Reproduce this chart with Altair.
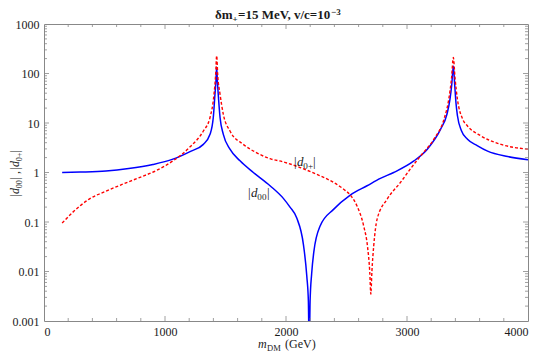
import altair as alt
import pandas as pd

# ---- data ----
blue_x = [150, 300, 512, 700, 900, 1065, 1207, 1317, 1372, 1399, 1413, 1421, 1427,
          1433, 1440, 1455, 1482, 1537, 1620, 1730, 1868, 1978, 2033, 2089, 2144,
          2172, 2185, 2192, 2199, 2212, 2230, 2282, 2393, 2531, 2670, 2780, 2890,
          3057, 3168, 3278, 3330, 3355, 3370, 3383, 3394, 3405, 3417, 3450, 3500,
          3580, 3666, 3832, 4000]
blue_y = [1.0, 1.02, 1.07, 1.2, 1.45, 1.86, 2.65, 3.7, 5.9, 12.9, 38, 70, 135,
          70, 38, 12.9, 5.9, 2.96, 1.72, 1.0, 0.54, 0.3, 0.2, 0.12, 0.035,
          0.008, 0.0025, 0.0002, 0.0025, 0.009, 0.025, 0.083, 0.18, 0.35, 0.54, 0.76, 1.0,
          1.71, 2.96, 7.5, 15, 30, 60, 142, 60, 25, 14, 7.0, 4.7,
          3.5, 2.7, 2.1, 1.8]

red_x = [150, 235, 373, 512, 650, 788, 930, 1065, 1207, 1317, 1372, 1405, 1418, 1427,
         1436, 1455, 1482, 1537, 1647, 1758, 1868, 1978, 2116, 2254, 2393, 2476, 2540,
         2587, 2642, 2675, 2692, 2701, 2710, 2725, 2753, 2836, 2946, 3030, 3112, 3222,
         3306, 3345, 3368, 3383, 3397, 3417, 3460, 3500, 3610, 3776, 4000]
red_y = [0.095, 0.155, 0.29, 0.42, 0.58, 0.79, 1.1, 1.71, 3.3, 6.9, 12.9, 38, 90, 228,
         90, 38, 15, 6.9, 3.7, 2.5, 1.9, 1.64, 1.26, 0.92, 0.63, 0.46, 0.33,
         0.21, 0.083, 0.03, 0.01, 0.0035, 0.01, 0.033, 0.114, 0.29, 0.63, 1.2, 2.16, 4.7,
         12, 30, 80, 210, 80, 30, 12, 8.7, 5.5, 3.7, 2.96]

x_major = [0, 1000, 2000, 3000, 4000]
x_minor = [200, 400, 600, 800, 1200, 1400, 1600, 1800, 2200, 2400, 2600, 2800,
           3200, 3400, 3600, 3800]
y_major = [0.001, 0.01, 0.1, 1, 10, 100, 1000]
y_minor = [m * d for d in [0.001, 0.01, 0.1, 1, 10, 100] for m in range(2, 10)]

# title "δm₊=15 MeV, v/c=10⁻³" in pieces: main, subscript, main, superscript
title_parts = ["δm", "+", "=15 MeV, v/c=10", "−3"]

W, H = 484, 297
FONT = "Liberation Serif"
FRAME = "#888888"
TXT = "#1a1a1a"

blue = pd.DataFrame({"x": blue_x, "v": blue_y})
red = pd.DataFrame({"x": red_x, "v": red_y})

xs = alt.Scale(domain=[0, 4000], nice=False, zero=False)
ys = alt.Scale(type="log", domain=[0.001, 1000], nice=False)

xax = alt.Axis(values=x_major, format="d", grid=False, ticks=False, domain=False,
               labelFont=FONT, labelFontSize=12, labelColor=TXT, labelPadding=5,
               title=None)
yax = alt.Axis(values=y_major, grid=False, ticks=False, domain=False,
               labelFont=FONT, labelFontSize=12, labelColor=TXT, labelPadding=5,
               labelExpr="datum.value >= 1 ? format(datum.value, 'd') : format(datum.value, '~g')",
               title=None)

line_b = alt.Chart(blue).mark_line(color="#0000ff", strokeWidth=1.5, clip=True,
                                   interpolate="monotone").encode(
    x=alt.X("x:Q", scale=xs, axis=xax),
    y=alt.Y("v:Q", scale=ys, axis=yax),
    order="x:Q",
)
line_r = alt.Chart(red).mark_line(color="#ff0000", strokeWidth=1.4, strokeDash=[3, 2],
                                  clip=True, interpolate="monotone").encode(
    x=alt.X("x:Q", scale=xs),
    y=alt.Y("v:Q", scale=ys),
    order="x:Q",
)

xmaj = pd.DataFrame({"t": x_major[1:-1]})
xmin = pd.DataFrame({"t": x_minor})
ymaj = pd.DataFrame({"t": y_major[1:-1]})
ymin = pd.DataFrame({"t": y_minor})


def xticks(df, L):
    bot = alt.Chart(df).mark_rule(color=FRAME, strokeWidth=0.8).encode(
        x=alt.X("t:Q", scale=xs), y=alt.value(H), y2=alt.value(H - L))
    top = alt.Chart(df).mark_rule(color=FRAME, strokeWidth=0.8).encode(
        x=alt.X("t:Q", scale=xs), y=alt.value(0), y2=alt.value(L))
    return bot + top


def yticks(df, L):
    lft = alt.Chart(df).mark_rule(color=FRAME, strokeWidth=0.8).encode(
        y=alt.Y("t:Q", scale=ys), x=alt.value(0), x2=alt.value(L))
    rgt = alt.Chart(df).mark_rule(color=FRAME, strokeWidth=0.8).encode(
        y=alt.Y("t:Q", scale=ys), x=alt.value(W), x2=alt.value(W - L))
    return lft + rgt


ticks = xticks(xmaj, 5) + xticks(xmin, 3) + yticks(ymaj, 5) + yticks(ymin, 3)

one = pd.DataFrame({"a": [0]})


def txt(s, x, y, size=12, **kw):
    kw.setdefault("baseline", "alphabetic")
    kw.setdefault("align", "left")
    return alt.Chart(one).mark_text(text=s, font=FONT, fontSize=size, color=TXT,
                                    **kw).encode(x=alt.value(x), y=alt.value(y))


def dlabel(sub, x, y, size=13, angle=0):
    # |d_sub| built from pieces; offsets along the text direction via dx/dy
    sub_size = size * 0.7
    pieces = [("|", 0, 0, size, {}),
              ("d", size * 0.24, 0, size, {"fontStyle": "italic"}),
              (sub, size * 0.72, size * 0.22, sub_size, {}),
              ("|", size * 0.72 + sub_size * 0.5 * len(sub) + 0.5, 0, size, {})]
    out = None
    for s, ddx, ddy, sz, extra in pieces:
        m = txt(s, x, y, size=sz, dx=ddx, dy=ddy, angle=angle, **extra)
        out = m if out is None else out + m
    return out


tx, ty = 171, -5
title = (
    txt(title_parts[0], tx, ty, size=13, fontWeight="bold")
    + txt(title_parts[1], tx + 17.5, ty + 3, size=9, fontWeight="bold")
    + txt(title_parts[2], tx + 23, ty, size=13, fontWeight="bold")
    + txt(title_parts[3], tx + 116, ty - 4.5, size=9, fontWeight="bold")
)

YT = -25
texts = (
    title
    + dlabel("00", 204, 173, size=13)
    + dlabel("0+", 250, 142, size=13)
    + dlabel("00", YT, 173, size=12, angle=270)
    + txt(",", YT, 150, size=12, angle=270, dx=0)
    + dlabel("0+", YT, 146, size=12, angle=270)
    + txt("m", 214, 324, size=12, fontStyle="italic")
    + txt("DM", 223, 327, size=8.5)
    + txt("(GeV)", 241, 324, size=12)
)

chart = alt.layer(line_b, line_r, ticks, texts).properties(
    width=W, height=H,
    autosize=alt.AutoSizeParams(type="none"),
    padding={"left": 36, "top": 16, "right": 4, "bottom": 34},
).configure_view(stroke=FRAME, strokeWidth=1)

chart.save("out.html", embed_options={"renderer": "svg", "actions": False})
